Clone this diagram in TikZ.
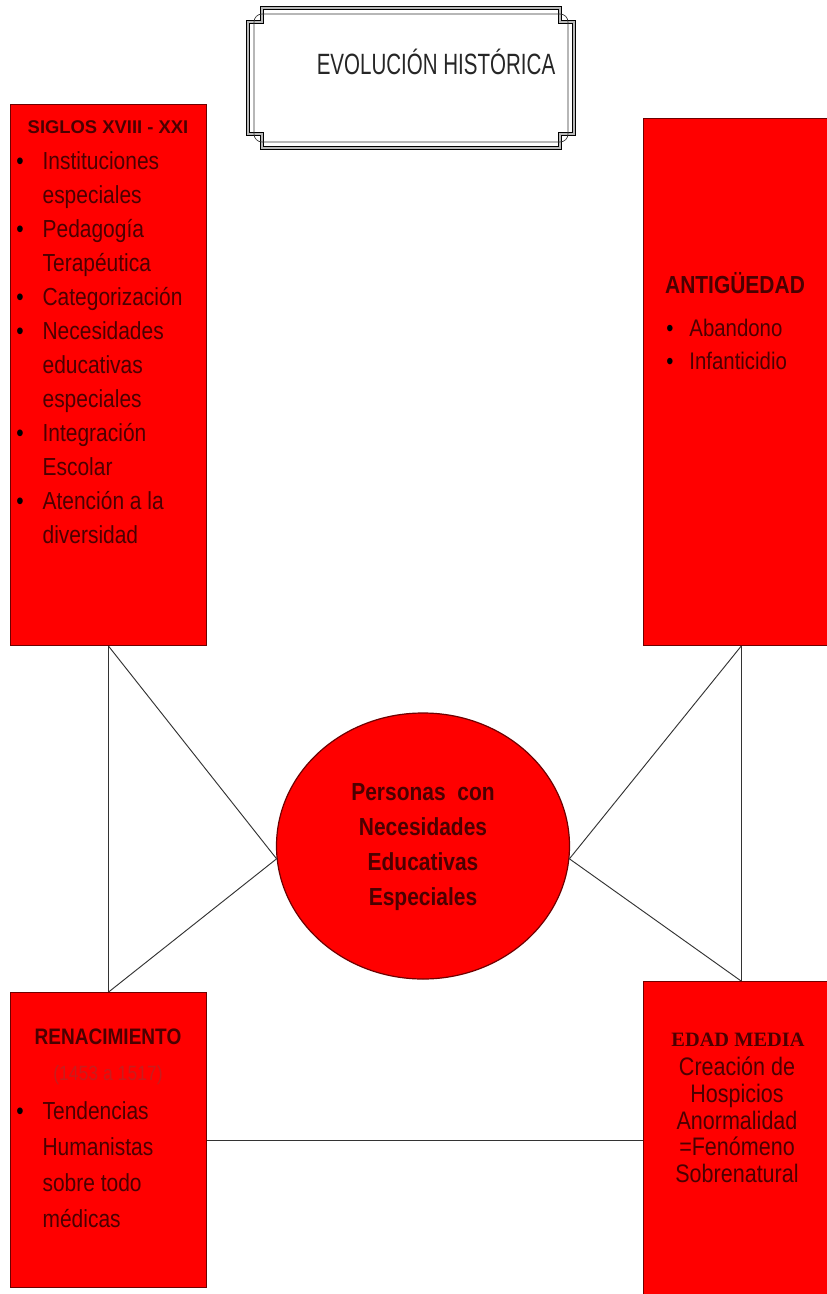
\documentclass[tikz,border=0pt]{standalone}
\usepackage{fontspec}
\setmainfont{Liberation Sans}
\newfontfamily\narrowfont{Liberation Sans}[FakeStretch=0.85]
\newfontfamily\titlefont{Liberation Sans}[FakeStretch=0.7]
\newfontfamily\seriffont{Liberation Serif}
\usepackage{xcolor}
\usetikzlibrary{positioning,shapes.geometric}
\definecolor{boxred}{RGB}{255,0,0}
\definecolor{edgered}{RGB}{110,0,0}
\definecolor{inkred}{RGB}{75,0,0}
\definecolor{datered}{RGB}{200,28,28}
\newdimen\px \px=0.75pt
\newcommand{\bul}{\textcolor{black}{\textbullet}}

\begin{document}
\begin{tikzpicture}[x=0.75pt,y=-0.75pt,
  periodo/.style={draw=edgered,line width=0.9pt,fill=boxred,anchor=north west,inner sep=0pt},
  enlace/.style={draw=black!80,line width=0.7pt},
  texto/.style={text=inkred,inner sep=0pt}]
\useasboundingbox (0,0) rectangle (826,1294);
\fill[white] (0,0) rectangle (826,1294);
% title frame
\draw[black,line width=0.5pt,double=gray!55,double distance=1.6pt]
  (262,8) -- (560,8) -- (560,22) -- (574,22) -- (574,134) -- (560,134) -- (560,148)
  -- (262,148) -- (262,134) -- (248,134) -- (248,22) -- (262,22) -- cycle;
\draw[black!80,line width=0.5pt,rounded corners=6pt] (254,14) rectangle (568,142);
\node[font=\titlefont\fontsize{22}{26}\selectfont,text=black!85] (titulo) at (436,62) {EVOLUCIÓN HISTÓRICA};
% boxes
\node[periodo,minimum width=196\px,minimum height=541\px] (siglos) at (10,104) {};
\node[periodo,minimum width=195\px,minimum height=527\px] (antig) at (643,118) {};
\node[periodo,minimum width=196\px,minimum height=295\px] (renac) at (10,992) {};
\node[periodo,minimum width=195\px,minimum height=317\px] (edad) at (643,981) {};
\node[ellipse,draw=edgered,line width=0.9pt,fill=boxred,minimum width=293\px,minimum height=266\px,
  texto,font=\narrowfont\bfseries\fontsize{18.5}{26.25}\selectfont] (circ) at (423,846)
  {\begin{tabular}{@{}c@{}}Personas~ con\\Necesidades\\Educativas\\Especiales\end{tabular}};
% connectors
\draw[enlace] (siglos.south) -- (renac.north);
\draw[enlace] (siglos.south) -- (circ.185) -- (renac.north);
\draw[enlace] (antig.south) -- (edad.north);
\draw[enlace] (antig.south) -- (circ.355) -- (edad.north);
\draw[enlace] (renac.east) -- (edad.west);
% SIGLOS XVIII - XXI
\node[texto,font=\bfseries\fontsize{13.8}{16}\selectfont] (siglostit) at (108,127) {SIGLOS XVIII - XXI};
\node[texto,anchor=north west,font=\narrowfont\fontsize{18.5}{25.5}\selectfont] (sigloslst) at (16,145)
  {\begin{tabular}{@{}c@{\hspace{19\px}}l@{}}
   \bul & Instituciones\\ & especiales\\
   \bul & Pedagogía\\ & Terapéutica\\
   \bul & Categorización\\
   \bul & Necesidades\\ & educativas\\ & especiales\\
   \bul & Integración\\ & Escolar\\
   \bul & Atención a la\\ & diversidad
   \end{tabular}};
% ANTIGUEDAD
\node[texto,font=\narrowfont\bfseries\fontsize{18.5}{22}\selectfont] (antigtit) at (735,283) {ANTIGÜEDAD};
\node[texto,anchor=north west,font=\narrowfont\fontsize{18}{24.75}\selectfont] (antiglst) at (666,313)
  {\begin{tabular}{@{}c@{\hspace{16\px}}l@{}}
   \bul & Abandono\\
   \bul & Infanticidio
   \end{tabular}};
% RENACIMIENTO
\node[texto,font=\narrowfont\bfseries\fontsize{16.8}{20}\selectfont] (renactit) at (108,1037) {RENACIMIENTO};
\node[inner sep=0pt,text=datered,font=\narrowfont\fontsize{15.5}{18}\selectfont] (renacfecha) at (108,1075) {(1453 a 1517)};
\node[texto,anchor=north west,font=\narrowfont\fontsize{18.5}{27}\selectfont] (renaclst) at (16,1094)
  {\begin{tabular}{@{}c@{\hspace{19\px}}l@{}}
   \bul & Tendencias\\ & Humanistas\\ & sobre todo\\ & médicas
   \end{tabular}};
% EDAD MEDIA
\node[texto,font=\seriffont\bfseries\fontsize{15.3}{18}\selectfont] (edadtit) at (738,1040) {EDAD MEDIA};
\node[texto,anchor=north,font=\narrowfont\fontsize{19}{19.9}\selectfont] (edadlst) at (737,1057)
  {\begin{tabular}{@{}c@{}}Creación de\\Hospicios\\Anormalidad\\=Fenómeno\\Sobrenatural\end{tabular}};
\end{tikzpicture}
\end{document}
